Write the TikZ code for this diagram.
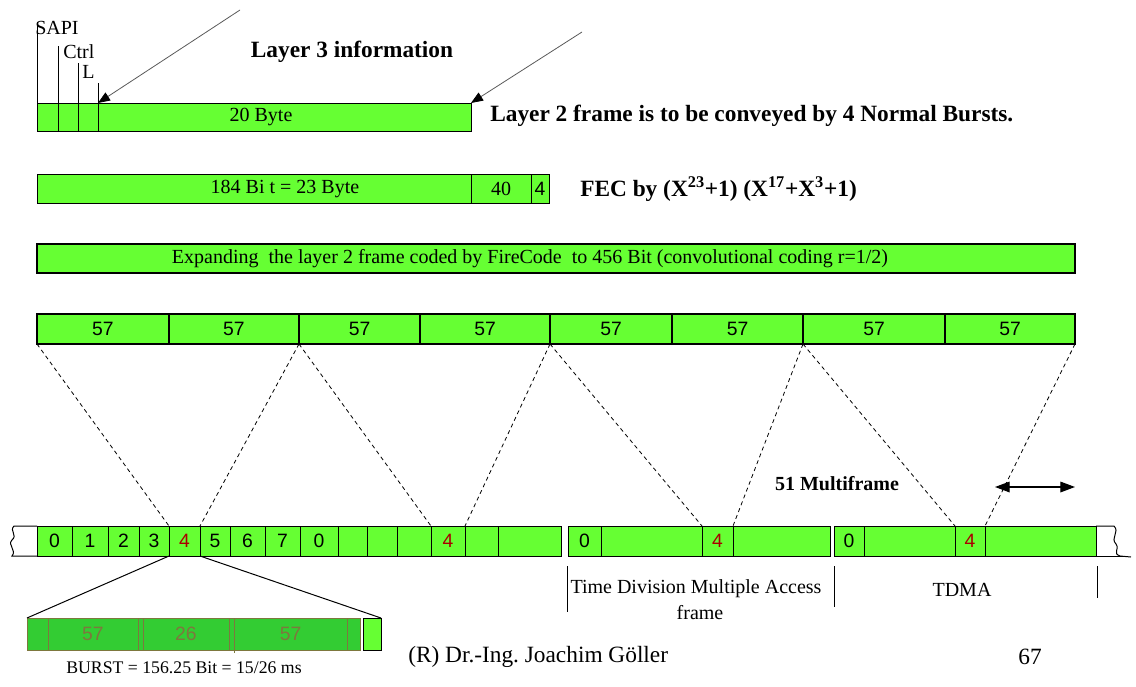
\documentclass[tikz,border=0pt]{standalone}
\usepackage{fontspec}
\setmainfont{Liberation Serif}
\setsansfont{Liberation Sans}
\usetikzlibrary{arrows.meta}
\definecolor{gf}{RGB}{102,255,51}
\definecolor{bgr}{RGB}{51,204,51}
\definecolor{olv}{RGB}{125,120,62}
\definecolor{rd}{RGB}{170,0,0}
\newcommand\mkcell[7][]{\node[cell,#1,minimum width={(#4-#3)*0.75pt},minimum height={(#6-#5)*0.75pt}]
  (#2) at ({(#3+#4)/2},{(#5+#6)/2}) {#7};}
\frenchspacing
\tikzset{
  cell/.style={draw=black, fill=gf, line width=0.75pt, inner sep=0pt, outer sep=0pt,
    font=\fontsize{15}{17}\selectfont},
  thick cell/.style={line width=1.3pt},
  snum/.style={font=\sffamily\fontsize{14.5}{16}\selectfont},
  red num/.style={snum, text=rd},
  bcell/.style={fill=bgr, draw=olv, text=olv, font=\sffamily\fontsize{14.5}{16}\selectfont},
  lbl/.style={font=\fontsize{15}{17}\selectfont, inner sep=0pt},
  bold lbl/.style={font=\bfseries\fontsize{17.5}{20}\selectfont, inner sep=0pt},
  foot/.style={font=\fontsize{17.5}{20}\selectfont, inner sep=0pt},
  map/.style={line width=0.6pt, dash pattern=on 3pt off 2.5pt},
  tick/.style={line width=0.75pt},
  pointer/.style={line width=0.6pt, gray!70!black, -{Triangle[length=9pt,width=7pt,black]}},
}
\begin{document}
\begin{tikzpicture}[x=0.75pt,y=-0.75pt]
\useasboundingbox (0,0) rectangle (1136,686);
% ---- row 1
\mkcell{c1a}{37}{58}{103}{131}{}
\mkcell{c1b}{58}{78}{103}{131}{}
\mkcell{c1c}{78}{98}{103}{131}{}
\mkcell{c1d}{98}{471}{103}{131}{}
\node[lbl] (c1dt) at (261,117) {20 Byte};
\draw[tick] (c1a.north west) -- ++(0,-81) coordinate (sapiTop);
\draw[tick] (c1b.north west) -- ++(0,-57) coordinate (ctrlTop);
\draw[tick] (c1c.north west) -- ++(0,-40) coordinate (lTop);
\draw[tick] (c1d.north west) -- ++(0,-20) coordinate (byTop);
\node[lbl, anchor=west] (sapi) at (35,28) {SAPI};
\node[lbl, anchor=west] (ctrl) at (63,52) {Ctrl};
\node[lbl, anchor=west] (lfld) at (82,72) {L};
\node[bold lbl] (l3) at (352,52) {Layer 3 information};
\coordinate (p1) at (240,10);
\coordinate (p2) at (582,32);
\draw[pointer] (p1) -- (c1d.north west);
\draw[pointer] (p2) -- (c1d.north east);
\node[bold lbl, anchor=west] (l2txt) at (490,116) {Layer 2 frame is to be conveyed by 4 Normal Bursts.};
% ---- row 2
\mkcell{c2a}{37}{471}{174}{203}{}
\node[lbl] (c2at) at (285,189) {184 Bi t = 23 Byte};
\mkcell{c2b}{471}{531}{174}{203}{40}
\mkcell[snum]{c2c}{531}{549}{174}{203}{4}
\node[bold lbl, anchor=west] (fec) at (580,189) {FEC by (X\textsuperscript{23}+1) (X\textsuperscript{17}+X\textsuperscript{3}+1)};
% ---- row 3
\mkcell[thick cell]{c3}{37}{1075}{244}{273}{}
\node[lbl] (c3t) at (530,259) {Expanding\ \ the layer 2 frame coded by FireCode\ \ to 456 Bit (convolutional coding r=1/2)};
% ---- row 4
\mkcell[thick cell,snum]{r4a}{37}{169}{314}{344}{57}
\mkcell[thick cell,snum]{r4b}{169}{299}{314}{344}{57}
\mkcell[thick cell,snum]{r4c}{299}{420}{314}{344}{57}
\mkcell[thick cell,snum]{r4d}{420}{550}{314}{344}{57}
\mkcell[thick cell,snum]{r4e}{550}{672}{314}{344}{57}
\mkcell[thick cell,snum]{r4f}{672}{803}{314}{344}{57}
\mkcell[thick cell,snum]{r4g}{803}{945}{314}{344}{57}
\mkcell[thick cell,snum]{r4h}{945}{1075}{314}{344}{57}
% ---- bottom row, block 1
\mkcell[snum]{b0}{37}{72}{526}{556}{0}
\mkcell[snum]{b1}{72}{108}{526}{556}{1}
\mkcell[snum]{b2}{108}{139}{526}{556}{2}
\mkcell[snum]{b3}{139}{169}{526}{556}{3}
\mkcell[red num]{b4}{169}{200}{526}{556}{4}
\mkcell[snum]{b5}{200}{230}{526}{556}{5}
\mkcell[snum]{b6}{230}{265}{526}{556}{6}
\mkcell[snum]{b7}{265}{300}{526}{556}{7}
\mkcell[snum]{b8}{300}{338}{526}{556}{0}
\mkcell{b9}{338}{367}{526}{556}{}
\mkcell{b10}{367}{397}{526}{556}{}
\mkcell{b11}{397}{431}{526}{556}{}
\mkcell[red num]{b12}{431}{465}{526}{556}{4}
\mkcell{b13}{465}{498}{526}{556}{}
\mkcell{b14}{498}{561}{526}{556}{}
% block 2
\mkcell[snum]{m0}{568}{601}{526}{556}{0}
\mkcell{m1}{601}{702}{526}{556}{}
\mkcell[red num]{m4}{702}{733}{526}{556}{4}
\mkcell{m5}{733}{830}{526}{556}{}
% block 3
\mkcell[snum]{n0}{834}{864}{526}{556}{0}
\mkcell{n1}{864}{955}{526}{556}{}
\mkcell[red num]{n4}{955}{985}{526}{556}{4}
\mkcell{n5}{985}{1096}{526}{556}{}
% stubs
\draw[line width=0.75pt] (b0.north west) -- (14,526) .. controls (9,531) and (18,535) .. (12,540)
   .. controls (7,545) and (17,550) .. (12,556) -- (b0.south west);
\draw[line width=0.75pt] (n5.north east) -- (1114,526) .. controls (1120,532) and (1110,538) .. (1116,544)
   .. controls (1120,550) and (1112,553) .. (1120,556) -- (1131,557);
\draw[line width=0.75pt] (n5.south east) -- (1126,556);
% ---- dashed mapping
\draw[map] (r4a.south west) -- (b4.north west);
\draw[map] (r4b.south east) -- (b5.north west);
\draw[map] (r4c.south west) -- (b12.north west);
\draw[map] (r4d.south east) -- (b13.north west);
\draw[map] (r4e.south west) -- (m4.north west);
\draw[map] (r4f.south east) -- (m5.north west);
\draw[map] (r4g.south west) -- (n4.north west);
\draw[map] (r4h.south east) -- (n5.north west);
% ---- multiframe
\node[font=\bfseries\fontsize{15}{17}\selectfont, inner sep=0pt] (mf) at (837,484) {51 Multiframe};
\coordinate (ma) at (995,487);
\coordinate (mb) at (1075,487);
\draw[line width=0.9pt, {Triangle[length=11pt,width=8pt]}-{Triangle[length=11pt,width=8pt]}] (ma) -- (mb);
% ---- TDMA
\coordinate (t1) at (567,566); \coordinate (t1b) at (567,612);
\coordinate (t2) at (834,566); \coordinate (t2b) at (834,607);
\coordinate (t3) at (1097,566); \coordinate (t3b) at (1097,598);
\draw[tick] (t1) -- (t1b);
\draw[tick] (t2) -- (t2b);
\draw[tick] (t3) -- (t3b);
\node[lbl] (tdma1) at (696,589) {Time Division Multiple Access};
\node[lbl] (tdma2) at (700,613) {frame};
\node[lbl] (tdma3) at (962,590) {TDMA};
% ---- burst
\mkcell[bcell]{u1}{27}{48}{618}{650}{}
\mkcell[bcell]{u2}{48}{138}{618}{650}{57}
\mkcell[bcell]{u3}{138}{143}{618}{650}{}
\mkcell[bcell]{u4}{143}{229}{618}{650}{26}
\mkcell[bcell]{u5}{229}{234}{618}{650}{}
\mkcell[bcell]{u6}{234}{347}{618}{650}{57}
\mkcell[bcell]{u7}{347}{360}{618}{650}{}
\mkcell{ux}{363}{381}{618}{650}{}
\draw[olv, line width=0.75pt] (u6.south west) -- ++(0,3);
\draw[line width=0.75pt] (b4.south west) -- (u1.north west);
\draw[line width=0.75pt] (b4.south east) -- (ux.north east);
\node[lbl, font=\fontsize{13.3}{15}\selectfont] (burst) at (184,668) {BURST = 156.25 Bit = 15/26 ms};
% ---- footer
\node[foot, anchor=west] (auth) at (408,657) {(R) Dr.-Ing. Joachim Göller};
\node[foot] (pg) at (1030,657) {67};
\end{tikzpicture}
\end{document}
